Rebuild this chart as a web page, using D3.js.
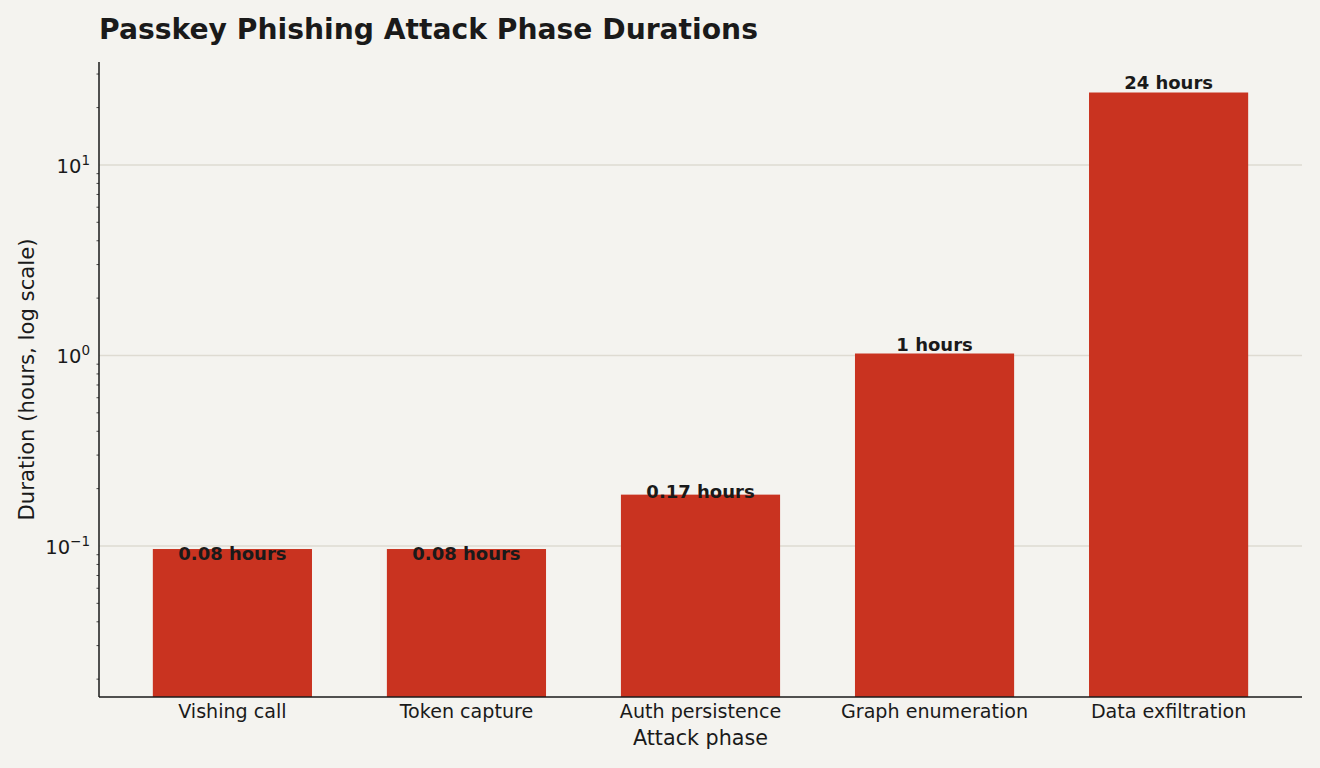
<!DOCTYPE html>
<html>
<head>
<meta charset="utf-8">
<script src="https://cdn.jsdelivr.net/npm/d3@7"></script>
<style>
  body { margin: 0; background: #f4f3ef; }
  svg { display: block; font-family: "DejaVu Sans", sans-serif; }
</style>
</head>
<body>
<div id="chart"></div>
<script>
// data
var phases = ["Vishing call", "Token capture", "Auth persistence", "Graph enumeration", "Data exfiltration"];
var barHours = [0.0964, 0.0964, 0.186, 1.024, 24.0];   // bar tops as drawn
var labelHours = [0.08, 0.08, 0.17, 1, 24];           // values printed above the bars
var yMajorTicks = [0.1, 1, 10];
var yTickExp = ["\u22121", "0", "1"];

// set the dimensions and margins of the graph
var W = 1320, H = 768;
var margin = { top: 62, right: 18, bottom: 71, left: 99 },
  width = W - margin.left - margin.right,
  height = H - margin.top - margin.bottom;

var svg = d3.select("#chart")
  .append("svg")
  .attr("width", W)
  .attr("height", H)
  .style("background-color", "#f4f3ef");

// scales
var x = d3.scaleBand()
  .domain(phases)
  .range([0, width])
  .paddingInner(0.32)
  .paddingOuter(0.23);

var y = d3.scaleLog()
  .domain([0.01612, 34.7])
  .range([height, 0]);

var g = svg.append("g")
  .attr("transform", "translate(" + margin.left + "," + margin.top + ")");

// gridlines under the bars
g.selectAll(".grid")
  .data(yMajorTicks)
  .enter().append("line")
  .attr("x1", 0)
  .attr("x2", width)
  .attr("y1", d => y(d))
  .attr("y2", d => y(d))
  .attr("stroke", "#dedbd2")
  .attr("stroke-width", 1.4);

// bars
g.selectAll(".bar")
  .data(phases)
  .enter().append("rect")
  .attr("class", "bar")
  .attr("x", d => x(d))
  .attr("width", x.bandwidth())
  .attr("y", (d, i) => y(barHours[i]))
  .attr("height", (d, i) => height - y(barHours[i]))
  .attr("fill", "#c93320");

// value labels
g.selectAll(".val")
  .data(phases)
  .enter().append("text")
  .attr("x", d => x(d) + x.bandwidth() / 2)
  .attr("y", (d, i) => y(labelHours[i]) - 4)
  .attr("text-anchor", "middle")
  .attr("font-size", 18)
  .attr("font-weight", "bold")
  .attr("fill", "#1a1a1a")
  .text((d, i) => labelHours[i] + " hours");

// y minor ticks (2..9 of each decade)
var minor = [];
[0.01, 0.1, 1, 10].forEach(function (dec) {
  for (var k = 2; k <= 9; k++) {
    var v = dec * k;
    if (v >= y.domain()[0] && v <= y.domain()[1]) minor.push(v);
  }
});
g.selectAll(".minor")
  .data(minor)
  .enter().append("line")
  .attr("x1", -2.5)
  .attr("x2", 0)
  .attr("y1", d => y(d))
  .attr("y2", d => y(d))
  .attr("stroke", "#1a1a1a")
  .attr("stroke-width", 0.8);

// y tick labels 10^n
var yl = g.selectAll(".ylab")
  .data(yMajorTicks)
  .enter().append("text")
  .attr("x", -9)
  .attr("y", d => y(d) + 8)
  .attr("text-anchor", "end")
  .attr("fill", "#1a1a1a")
  .attr("font-size", 19.5);
yl.append("tspan").text("10");
yl.append("tspan")
  .attr("dy", -8)
  .attr("font-size", 13.5)
  .text((d, i) => yTickExp[i]);

// x tick labels
g.selectAll(".xlab")
  .data(phases)
  .enter().append("text")
  .attr("x", d => x(d) + x.bandwidth() / 2)
  .attr("y", height + 21)
  .attr("text-anchor", "middle")
  .attr("fill", "#1a1a1a")
  .attr("font-size", 19.1)
  .text(d => d);

// spines
g.append("line")
  .attr("x1", 0).attr("x2", 0)
  .attr("y1", 0).attr("y2", height)
  .attr("stroke", "#1a1a1a")
  .attr("stroke-width", 1.5);
g.append("line")
  .attr("x1", 0).attr("x2", width)
  .attr("y1", height).attr("y2", height)
  .attr("stroke", "#1a1a1a")
  .attr("stroke-width", 1.5);

// axis titles
g.append("text")
  .attr("x", width / 2)
  .attr("y", height + 48)
  .attr("text-anchor", "middle")
  .attr("fill", "#1a1a1a")
  .attr("font-size", 20.7)
  .text("Attack phase");

svg.append("text")
  .attr("transform", "translate(34," + (margin.top + height / 2) + ") rotate(-90)")
  .attr("text-anchor", "middle")
  .attr("fill", "#1a1a1a")
  .attr("font-size", 21.2)
  .text("Duration (hours, log scale)");

// title
svg.append("text")
  .attr("x", margin.left)
  .attr("y", 39)
  .attr("fill", "#1a1a1a")
  .attr("font-size", 28.2)
  .attr("font-weight", "bold")
  .text("Passkey Phishing Attack Phase Durations");
</script>
</body>
</html>
